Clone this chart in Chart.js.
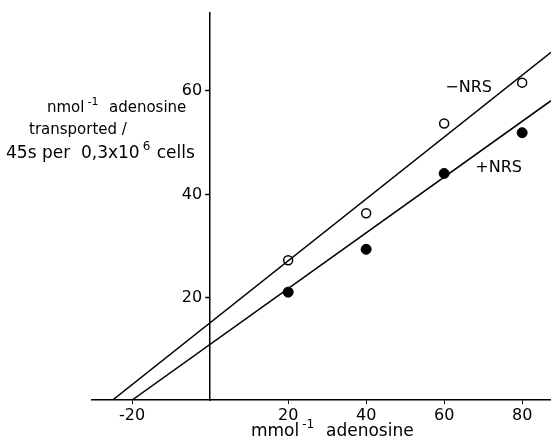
<!DOCTYPE html>
<html>
<head>
<meta charset="utf-8">
<script src="https://cdn.jsdelivr.net/npm/chart.js@4"></script>
<style>
  body { margin: 0; background: #fff; }
</style>
</head>
<body>
<canvas id="chart" width="551" height="439"></canvas>
<script>
// adenosine (mmol^-1) vs transported
var doses = [20, 40, 60, 80];
var minusNrs = [27.1, 36.2, 53.6, 61.5];
var plusNrs = [20.9, 29.2, 43.9, 51.8];

// fitted lines, drawn from x-intercept to right edge
var minusFitX = [-25, 87.4];
var minusFitY = [0, 67.4];
var plusFitX = [-20, 87.4];
var plusFitY = [0, 58.0];

var xTicks = [-20, 20, 40, 60, 80];
var yTicks = [20, 40, 60];

function pts(xs, ys) {
  return xs.map(function (x, i) { return { x: x, y: ys[i] }; });
}

var FONT = "'DejaVu Sans', sans-serif";

// text with a superscript in the middle
function supText(ctx, x, y, before, sup, after, size) {
  ctx.font = size + "px " + FONT;
  ctx.fillText(before, x, y);
  x += ctx.measureText(before).width + 3;
  ctx.font = Math.round(size * 0.72) + "px " + FONT;
  ctx.fillText(sup, x, y - size * 0.45);
  x += ctx.measureText(sup).width + 1;
  ctx.font = size + "px " + FONT;
  ctx.fillText(after, x, y);
}

var labelsPlugin = {
  id: "labels",
  afterDraw: function (chart) {
    var ctx = chart.ctx;
    var xs = chart.scales.x, ys = chart.scales.y;
    var x0 = xs.getPixelForValue(0);
    ctx.save();
    ctx.fillStyle = "#000";
    ctx.strokeStyle = "#000";
    ctx.lineWidth = 1.5;

    // y ticks and labels, left of the axis
    ctx.font = "16px " + FONT;
    ctx.textAlign = "right";
    ctx.textBaseline = "middle";
    yTicks.forEach(function (v) {
      var py = Math.round(ys.getPixelForValue(v)) + 0.5;
      ctx.beginPath();
      ctx.moveTo(x0 - 5, py);
      ctx.lineTo(x0, py);
      ctx.stroke();
      ctx.fillText(String(v), x0 - 8, py);
    });

    ctx.textAlign = "left";
    ctx.textBaseline = "alphabetic";

    // y axis title
    supText(ctx, 47, 112, "nmol", "-1", "  adenosine", 15);
    ctx.font = "15px " + FONT;
    ctx.fillText("transported /", 29, 134);
    supText(ctx, 6, 158, "45s per  0,3x10", "6", " cells", 17);

    // x axis title
    supText(ctx, 251, 436, "mmol", "-1", "  adenosine", 17);

    // series labels
    ctx.font = "16px " + FONT;
    ctx.fillText("\u2212NRS", xs.getPixelForValue(60.3), ys.getPixelForValue(60.5) + 4);
    ctx.fillText("+NRS", xs.getPixelForValue(68), ys.getPixelForValue(45.2) + 5);
    ctx.restore();
  }
};

var ctx = document.getElementById("chart");
new Chart(ctx.getContext("2d"), {
  type: "scatter",
  data: {
    datasets: [
      {
        type: "line",
        data: pts(minusFitX, minusFitY),
        borderColor: "#000",
        borderWidth: 1.5,
        pointRadius: 0,
        fill: false
      },
      {
        type: "line",
        data: pts(plusFitX, plusFitY),
        borderColor: "#000",
        borderWidth: 1.5,
        pointRadius: 0,
        fill: false
      },
      {
        data: pts(doses, minusNrs),
        pointRadius: 4.5,
        pointBackgroundColor: "#fff",
        pointBorderColor: "#000",
        pointBorderWidth: 1.5
      },
      {
        data: pts(doses, plusNrs),
        pointRadius: 5,
        pointBackgroundColor: "#000",
        pointBorderColor: "#000",
        pointBorderWidth: 1
      }
    ]
  },
  options: {
    responsive: false,
    animation: false,
    layout: { autoPadding: false, padding: { left: 92, top: 13, right: 0, bottom: 0 } },
    plugins: { legend: { display: false }, tooltip: { enabled: false } },
    scales: {
      x: {
        type: "linear",
        min: -30.3,
        max: 87.4,
        afterBuildTicks: function (s) { s.ticks = xTicks.map(function (v) { return { value: v }; }); },
        afterFit: function (s) { s.height = 39; s.paddingLeft = 0; s.paddingRight = 0; },
        border: { display: true, color: "#000", width: 1.5 },
        grid: { drawOnChartArea: false, color: "#000", tickLength: 4 },
        ticks: { color: "#000", font: { family: FONT, size: 16 }, padding: 2, maxRotation: 0 }
      },
      y: {
        type: "linear",
        position: { x: 0 },
        min: 0,
        max: 75,
        afterBuildTicks: function (s) { s.ticks = yTicks.map(function (v) { return { value: v }; }); },
        afterFit: function (s) { s.paddingTop = 0; s.paddingBottom = 0; },
        border: { display: true, color: "#000", width: 1.5 },
        grid: { display: false },
        ticks: { display: false }
      }
    }
  },
  plugins: [labelsPlugin]
});
</script>
</body>
</html>
